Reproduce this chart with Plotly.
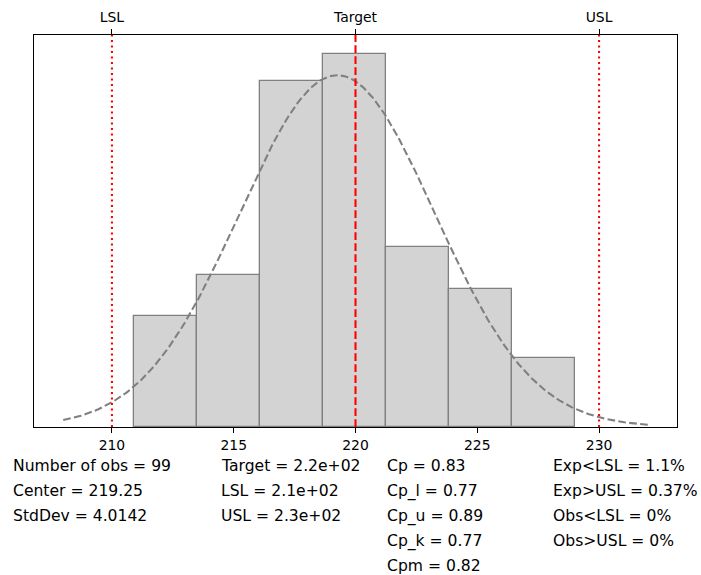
import numpy as np
import plotly.graph_objects as go

# Process measurements summarised as a histogram (7 bins)
bin_counts = [8, 11, 25, 27, 13, 10, 5]
data_min, data_max = 210.9, 229.0
n_obs = 99
center = 219.25
std_dev = 4.0142

# Specification limits
lsl, target, usl = 210, 220, 230

# Summary statistics printed under the chart
col_basic = ["Number of obs = 99", "Center = 219.25", "StdDev = 4.0142"]
col_spec = ["Target = 2.2e+02", "LSL = 2.1e+02", "USL = 2.3e+02"]
col_cap = ["Cp = 0.83", "Cp_l = 0.77", "Cp_u = 0.89", "Cp_k = 0.77", "Cpm = 0.82"]
col_exp = ["Exp<LSL = 1.1%", "Exp>USL = 0.37%", "Obs<LSL = 0%", "Obs>USL = 0%"]

bottom_ticks = [210, 215, 220, 225, 230]
top_ticks = [lsl, target, usl]
top_labels = ["LSL", "Target", "USL"]

# Derived histogram geometry (density scaled)
n_bins = len(bin_counts)
edges = np.linspace(data_min, data_max, n_bins + 1)
bw = edges[1] - edges[0]
mids = (edges[:-1] + edges[1:]) / 2
density = np.array(bin_counts) / (n_obs * bw)

# Fitted normal curve
xc = np.linspace(lsl - 2, usl + 2, 300)
yc = np.exp(-0.5 * ((xc - center) / std_dev) ** 2) / (std_dev * np.sqrt(2 * np.pi))

span = (usl + 2) - (lsl - 2)
x_range = [lsl - 2 - 0.05 * span, usl + 2 + 0.05 * span]
y_range = [0, density.max() * 1.05]

FONT = "DejaVu Sans"
FS = 13.9        # tick labels
FS_STATS = 15.6  # statistics block
LW = 2.08
DASHED = "7.7px,3.3px"
DOTTED = "2.1px,3.4px"

fig = go.Figure()
fig.add_trace(go.Bar(
    x=mids, y=density, width=bw,
    marker=dict(color="#d3d3d3", line=dict(color="#808080", width=1.3)),
    showlegend=False, hoverinfo="skip",
))
fig.add_trace(go.Scatter(
    x=xc, y=yc, mode="lines",
    line=dict(color="#808080", width=LW, dash=DASHED),
    showlegend=False, hoverinfo="skip",
))
# Invisible trace to activate the top axis
fig.add_trace(go.Scatter(x=[x_range[0]], y=[0], xaxis="x2", mode="markers",
                         marker=dict(opacity=0), showlegend=False, hoverinfo="skip"))

for xv, dash in [(lsl, DOTTED), (usl, DOTTED), (target, DASHED)]:
    fig.add_shape(type="line", xref="x", yref="paper", x0=xv, x1=xv, y0=0, y1=1,
                  line=dict(color="#ff0000", width=LW, dash=dash), layer="above")

# Statistic columns below the axes
L, R, T, B = 34, 24, 35, 148
W, H = 701 - L - R, 575 - T - B
col_x = [12, 220, 386, 552]
row_y = [466, 491, 516, 541, 565.5]
for cx, col in zip(col_x, [col_basic, col_spec, col_cap, col_exp]):
    for i, txt in enumerate(col):
        fig.add_annotation(
            x=(cx - L) / W, y=(575 - B - row_y[i]) / H, xref="paper", yref="paper",
            text=txt, showarrow=False, xanchor="left", yanchor="middle",
            borderpad=0,
            font=dict(family=FONT, size=FS_STATS, color="black"),
        )

axis_common = dict(range=x_range, showgrid=False, zeroline=False, automargin=False,
                   ticks="outside", ticklen=4.9, tickwidth=1.1, tickcolor="black",
                   tickfont=dict(family=FONT, size=FS, color="black"))
fig.update_layout(
    width=701, height=575,
    margin=dict(l=L, r=R, t=T, b=B),
    paper_bgcolor="white", plot_bgcolor="white",
    bargap=0,
    xaxis=dict(**axis_common, tickvals=bottom_ticks, showline=True,
               linecolor="black", linewidth=1.1),
    xaxis2=dict(**axis_common, tickvals=top_ticks, ticktext=top_labels,
                overlaying="x", side="top", showline=True, ticklabelstandoff=1,
                linecolor="black", linewidth=1.1),
    yaxis=dict(range=y_range, showgrid=False, zeroline=False, showticklabels=False,
               automargin=False, ticks="", showline=True, mirror=True,
               linecolor="black", linewidth=1.1),
    font=dict(family=FONT, size=FS, color="black"),
)

fig.write_html("out.html")
